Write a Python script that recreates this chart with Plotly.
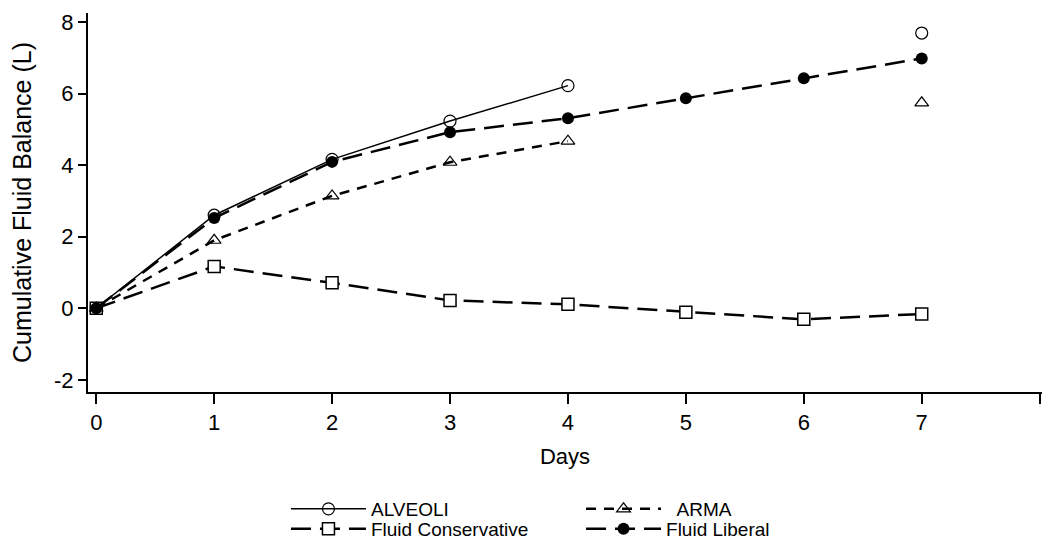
import plotly.graph_objects as go

days = [0, 1, 2, 3, 4, 5, 6, 7]
alveoli = [0, 2.60, 4.16, 5.23, 6.22, None, None, 7.69]
arma = [0, 1.90, 3.14, 4.08, 4.67, None, None, 5.74]
conservative = [0, 1.17, 0.71, 0.22, 0.11, -0.11, -0.31, -0.16]
liberal = [0, 2.52, 4.09, 4.92, 5.31, 5.87, 6.43, 6.98]

x_ticks = [0, 1, 2, 3, 4, 5, 6, 7, 8]
x_labels = ["0", "1", "2", "3", "4", "5", "6", "7", ""]
y_ticks = [-2, 0, 2, 4, 6, 8]
y_labels = ["-2", "0", "2", "4", "6", "8"]

fig = go.Figure()
fig.add_trace(go.Scatter(
    x=days, y=alveoli, name="ALVEOLI", mode="lines+markers", connectgaps=False,
    legend="legend",
    line=dict(color="black", width=1.5, dash="solid"),
    marker=dict(symbol="circle-open", size=12, color="black", line=dict(width=1.2))))
fig.add_trace(go.Scatter(
    x=days, y=arma, name="\u00a0\u00a0ARMA", mode="lines+markers", connectgaps=False,
    legend="legend2",
    line=dict(color="black", width=2.5, dash="10px,8px"),
    marker=dict(symbol="triangle-up-open", size=12, color="black", line=dict(width=1.2))))
fig.add_trace(go.Scatter(
    x=days, y=conservative, name="Fluid Conservative", mode="lines+markers",
    legend="legend3",
    line=dict(color="black", width=2.5, dash="20px,9px"),
    marker=dict(symbol="square", size=12, color="white", line=dict(width=1.5, color="black"))))
fig.add_trace(go.Scatter(
    x=days, y=liberal, name="Fluid Liberal", mode="lines+markers",
    legend="legend4",
    line=dict(color="black", width=2.5, dash="20px,9px"),
    marker=dict(symbol="circle", size=12, color="black")))

leg_common = dict(orientation="v", xanchor="left", yanchor="middle",
                  font=dict(size=19, family="Liberation Sans, Arial", color="black"),
                  itemwidth=75, bgcolor="rgba(0,0,0,0)", borderwidth=0)

fig.update_layout(
    width=1050, height=547,
    margin=dict(l=80, r=16, t=5, b=163),
    plot_bgcolor="white", paper_bgcolor="white",
    font=dict(family="Liberation Sans, Arial", size=22, color="black"),
    showlegend=True,
    legend=dict(x=0.2075, y=-0.3087, **leg_common),
    legend2=dict(x=0.5168, y=-0.3087, **leg_common),
    legend3=dict(x=0.2075, y=-0.3614, **leg_common),
    legend4=dict(x=0.5168, y=-0.3614, **leg_common),
)
fig.update_xaxes(
    range=[-0.07, 8.02], tickvals=x_ticks, ticktext=x_labels, automargin=False,
    showline=True, linecolor="black", linewidth=2, showgrid=False, zeroline=False,
    ticks="outside", ticklen=10, tickwidth=2, tickcolor="black",
    title=dict(text="Days", font=dict(size=22), standoff=14))
fig.update_yaxes(
    range=[-2.34, 8.25], tickvals=y_ticks, ticktext=y_labels, automargin=False,
    showline=True, linecolor="black", linewidth=2, showgrid=False, zeroline=False,
    ticks="outside", ticklen=8, tickwidth=2, tickcolor="black",
    title=dict(text="Cumulative Fluid Balance (L)", font=dict(size=25), standoff=21))

fig.write_html("out.html")
